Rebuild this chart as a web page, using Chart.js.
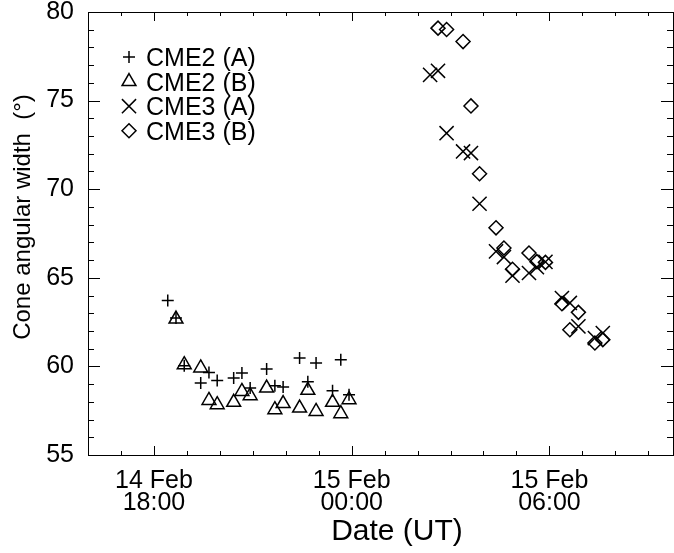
<!DOCTYPE html>
<html>
<head>
<meta charset="utf-8">
<script src="https://cdn.jsdelivr.net/npm/chart.js@4/dist/chart.umd.min.js"></script>
<style>
    body { margin: 0; background: #fff; }
    #wrap { width: 674px; height: 553px; }
</style>
</head>
<body>
<div id="wrap"><canvas id="coneChart" width="674" height="553"></canvas></div>
<script>
// Times are hours since 14 Feb 00:00 UT, widths in degrees
const cme2aTime  = [18.42, 18.67, 18.92, 19.42, 19.67, 19.92, 20.42, 20.67, 20.92, 21.42, 21.67, 21.92, 22.42, 22.67, 22.92, 23.42, 23.67, 23.92];
const cme2aWidth = [63.72, 62.73, 60.04, 59.06, 59.66, 59.21, 59.35, 59.63, 58.78, 59.85, 58.91, 58.84, 60.47, 59.14, 60.19, 58.63, 60.38, 58.40];

const cme2bTime  = [18.67, 18.92, 19.42, 19.67, 19.92, 20.42, 20.67, 20.92, 21.42, 21.67, 21.92, 22.42, 22.67, 22.92, 23.42, 23.67, 23.92];
const cme2bWidth = [62.67, 60.10, 59.91, 58.08, 57.84, 57.97, 58.59, 58.35, 58.78, 57.56, 57.90, 57.65, 58.65, 57.46, 57.97, 57.33, 58.12];

const cme3aTime  = [26.38, 26.62, 26.88, 27.38, 27.62, 27.88, 28.38, 28.62, 28.88, 29.38, 29.62, 29.88, 30.38, 30.62, 30.88, 31.38, 31.62];
const cme3aWidth = [76.45, 76.68, 73.16, 72.13, 72.04, 69.18, 66.49, 66.17, 65.12, 65.27, 65.60, 65.90, 63.86, 63.58, 62.26, 61.60, 61.88];

const cme3bTime  = [26.62, 26.88, 27.38, 27.62, 27.88, 28.38, 28.62, 28.88, 29.38, 29.62, 29.88, 30.38, 30.62, 30.88, 31.38, 31.62];
const cme3bWidth = [79.09, 79.01, 78.33, 74.70, 70.87, 67.82, 66.68, 65.48, 66.40, 65.91, 65.87, 63.54, 62.07, 63.05, 61.32, 61.51];

const seriesNames = ['CME2 (A)', 'CME2 (B)', 'CME3 (A)', 'CME3 (B)'];

const xTickHours = [18, 24, 30];
const xTickLabels = [['14 Feb', '18:00'], ['15 Feb', '00:00'], ['15 Feb', '06:00']];
const xRange = [16, 33.75];
const yRange = [55, 80];

const FONT = "'Liberation Sans', Arial, Helvetica, sans-serif";

function toPoints(times, widths) {
    return times.map(function(t, i) { return { x: t, y: widths[i] }; });
}

function makeSet(label, times, widths, style, radius) {
    return {
        label: label,
        data: toPoints(times, widths),
        showLine: false,
        pointStyle: style,
        pointRadius: radius,
        pointHoverRadius: radius,
        pointBorderWidth: 1.5,
        borderColor: '#000',
        backgroundColor: 'rgba(0,0,0,0)'
    };
}

// keep the plot box where the reference has it
function noPadding(scale) {
    scale.paddingLeft = 0;
    scale.paddingRight = 0;
    scale.paddingTop = 0;
    scale.paddingBottom = 0;
}

// Box, inward tick marks, axis titles and the legend inside the plot
const framePlugin = {
    id: 'frame',
    afterDraw: function(chart) {
        const ctx = chart.ctx;
        const a = chart.chartArea;
        const xs = chart.scales.x;
        const ys = chart.scales.y;

        ctx.save();
        ctx.strokeStyle = '#000';
        ctx.lineWidth = 1;
        ctx.strokeRect(Math.round(a.left) + 0.5, Math.round(a.top) + 0.5,
            Math.round(a.right - a.left), Math.round(a.bottom - a.top));

        ctx.beginPath();
        for (let h = Math.ceil(xRange[0]); h <= xRange[1]; h++) {
            const px = Math.round(xs.getPixelForValue(h)) + 0.5;
            const len = (h % 6 === 0) ? 9 : 4;
            ctx.moveTo(px, a.bottom); ctx.lineTo(px, a.bottom - len);
            ctx.moveTo(px, a.top); ctx.lineTo(px, a.top + len);
        }
        for (let v = yRange[0]; v <= yRange[1]; v++) {
            const py = Math.round(ys.getPixelForValue(v)) + 0.5;
            const len = (v % 5 === 0) ? 12 : 6;
            ctx.moveTo(a.left, py); ctx.lineTo(a.left + len, py);
            ctx.moveTo(a.right, py); ctx.lineTo(a.right - len, py);
        }
        ctx.stroke();

        // axis titles
        ctx.fillStyle = '#000';
        ctx.textAlign = 'center';
        ctx.textBaseline = 'alphabetic';
        ctx.font = '30px ' + FONT;
        ctx.fillText('Date (UT)', 397, 540);

        ctx.save();
        ctx.translate(30, 217);
        ctx.rotate(-Math.PI / 2);
        ctx.font = '24px ' + FONT;
        ctx.fillText('Cone angular width  (\u00b0)', 0, 0);
        ctx.restore();

        // legend
        ctx.font = '25px ' + FONT;
        ctx.textAlign = 'left';
        chart.data.datasets.forEach(function(ds, i) {
            const y = 57 + i * 24.6;
            ctx.save();
            ctx.lineWidth = ds.pointBorderWidth;
            ctx.fillStyle = 'rgba(0,0,0,0)';
            Chart.helpers.drawPoint(ctx, {
                pointStyle: ds.pointStyle,
                radius: ds.pointRadius,
                rotation: 0,
                borderWidth: ds.pointBorderWidth
            }, 129, y);
            ctx.restore();
            ctx.fillText(seriesNames[i], 146, y + 9);
        });
        ctx.restore();
    }
};

new Chart(document.getElementById('coneChart').getContext('2d'), {
    type: 'scatter',
    data: {
        datasets: [
            makeSet(seriesNames[0], cme2aTime, cme2aWidth, 'cross', 6),
            makeSet(seriesNames[1], cme2bTime, cme2bWidth, 'triangle', 8),
            makeSet(seriesNames[2], cme3aTime, cme3aWidth, 'crossRot', 10),
            makeSet(seriesNames[3], cme3bTime, cme3bWidth, 'rectRot', 7)
        ]
    },
    options: {
        responsive: false,
        animation: false,
        events: [],
        layout: { autoPadding: false, padding: { top: 12, right: 1, left: 0, bottom: 0 } },
        plugins: {
            legend: { display: false },
            tooltip: { enabled: false }
        },
        scales: {
            x: {
                type: 'linear',
                min: xRange[0],
                max: xRange[1],
                grid: { display: false },
                border: { display: false },
                afterBuildTicks: function(scale) {
                    scale.ticks = xTickHours.map(function(v) { return { value: v }; });
                },
                afterFit: function(scale) {
                    scale.height = 98;
                    noPadding(scale);
                },
                ticks: {
                    autoSkip: false,
                    maxRotation: 0,
                    padding: 7,
                    color: '#000',
                    font: { family: FONT, size: 25, lineHeight: 0.88 },
                    callback: function(value, index) { return xTickLabels[index]; }
                }
            },
            y: {
                min: yRange[0],
                max: yRange[1],
                grid: { display: false },
                border: { display: false },
                afterFit: function(scale) {
                    scale.width = 88;
                    noPadding(scale);
                },
                ticks: {
                    stepSize: 5,
                    padding: 6,
                    color: '#000',
                    font: { family: FONT, size: 25 }
                }
            }
        }
    },
    plugins: [framePlugin]
});
</script>
</body>
</html>
